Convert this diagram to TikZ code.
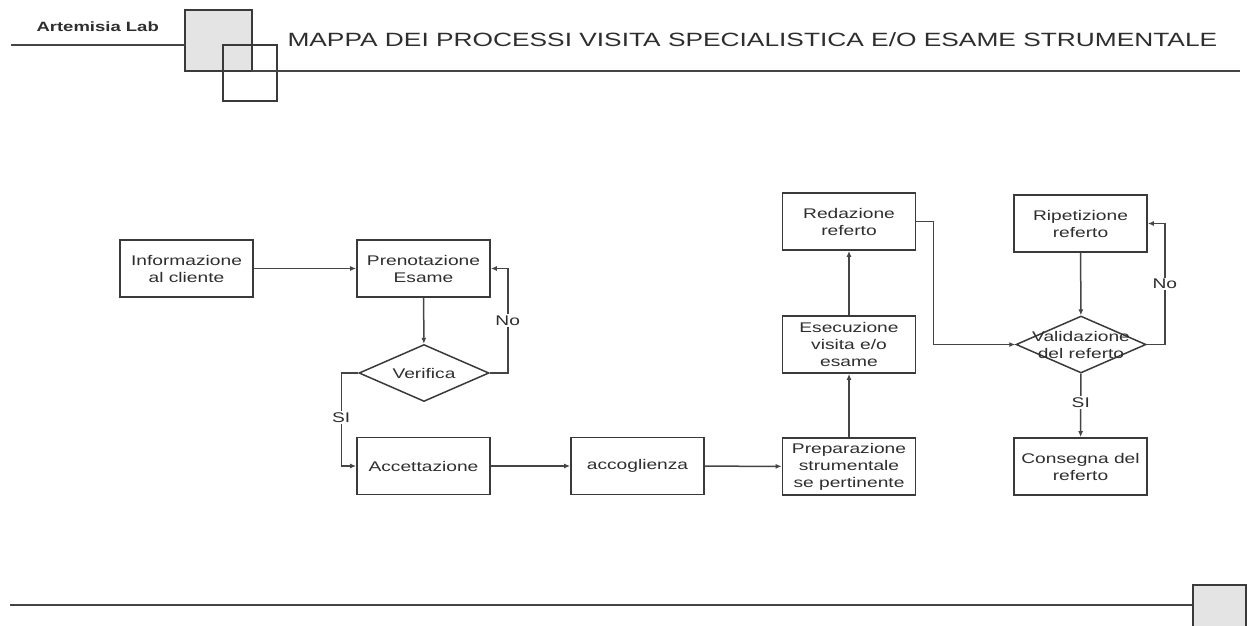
\documentclass[tikz,border=0pt]{standalone}
\usepackage{fontspec}
\setmainfont[FakeStretch=1.37]{Liberation Sans}
\usetikzlibrary{shapes.geometric}
\usetikzlibrary{arrows.meta}

\definecolor{bordo}{HTML}{3A3A3A}
\definecolor{linea}{HTML}{454545}
\definecolor{testo}{HTML}{2E2E2E}
\definecolor{grigino}{HTML}{E4E4E4}

\tikzset{
	passo/.style={draw=bordo, line width=1.8pt, minimum width=133pt, minimum height=57pt,
		inner sep=0pt, align=center, text=testo, font=\fontsize{14}{17}\selectfont},
	scelta/.style={diamond, draw=bordo, line width=1.5pt, aspect=2.3,
		minimum width=130pt, minimum height=57pt, inner sep=0pt},
	freccia/.style={draw=linea, line width=1.5pt, -{Latex[length=6pt,width=5pt]}},
	risposta/.style={fill=white, inner sep=1.5pt, text=testo, font=\fontsize{14}{17}\selectfont},
}

\begin{document}
\begin{tikzpicture}[x=1pt, y=-1pt]
	\clip (0,0) rectangle (1248,625);

	% intestazione
	\filldraw[fill=grigino, draw=bordo, line width=1.5pt] (185,10) rectangle (252,71);
	\draw[bordo, line width=1.3pt] (223,45) rectangle (277,101);
	\draw[linea, line width=1.2pt] (11,45) -- (185,45);
	\draw[linea, line width=1.2pt] (252,71) -- (1240,71);
	\node[anchor=west, text=testo, font=\fontsize{13.5}{16}\selectfont\bfseries] (lab) at (33,27) {Artemisia Lab};
	\node[anchor=west, text=testo, font=\fontsize{19.2}{23}\selectfont] (titolo) at (284,40)
		{MAPPA DEI PROCESSI VISITA SPECIALISTICA E/O ESAME STRUMENTALE};

	% processo
	\node[passo] (info) at (186.5,268.5) {Informazione\\al cliente};
	\node[passo] (pren) at (423.5,268.5) {Prenotazione\\Esame};
	\node[scelta, label={[text=testo, font=\fontsize{14}{17}\selectfont]center:Verifica}] (verif) at (424,373) {};
	\node[passo] (acc) at (423.5,466) {Accettazione};
	\node[passo] (accog) at (637.5,466) {accoglienza};
	\node[passo] (prep) at (849,466.5) {Preparazione\\strumentale\\se pertinente};
	\node[passo] (esec) at (849,344.5) {Esecuzione\\visita e/o\\esame};
	\node[passo] (red) at (849,221.5) {Redazione\\referto};
	\node[passo] (rip) at (1080.5,223.5) {Ripetizione\\referto};
	\node[scelta, label={[text=testo, align=center, font=\fontsize{14}{17}\selectfont]center:Validazione\\del referto}] (val) at (1081,344.5) {};
	\node[passo] (cons) at (1080.5,466.5) {Consegna del\\referto};

	\draw[freccia] (info) -- (pren);
	\draw[freccia] (pren) -- (verif);
	\draw[freccia] (verif.west) -- ++(-17,0) |- node[risposta, pos=0.24] {SI} (acc.west);
	\draw[freccia] (verif.east) -- ++(18,0) |- node[risposta, pos=0.25] {No} (pren.east);
	\draw[freccia] (acc) -- (accog);
	\draw[freccia] (accog) -- (prep);
	\draw[freccia] (prep) -- (esec);
	\draw[freccia] (esec) -- (red);
	\draw[freccia] (red.east) -- ++(17,0) |- (val.west);
	\draw[freccia] (rip) -- (val);
	\draw[freccia] (val.east) -- ++(18,0) |- node[risposta, pos=0.25] {No} (rip.east);
	\draw[freccia] (val) -- node[risposta, pos=0.46] {SI} (cons);

	% pie' di pagina
	\draw[linea, line width=1.2pt] (10,605) -- (1193,605);
	\filldraw[fill=grigino, draw=bordo, line width=1.5pt] (1193,585) rectangle (1246,640);
\end{tikzpicture}
\end{document}
